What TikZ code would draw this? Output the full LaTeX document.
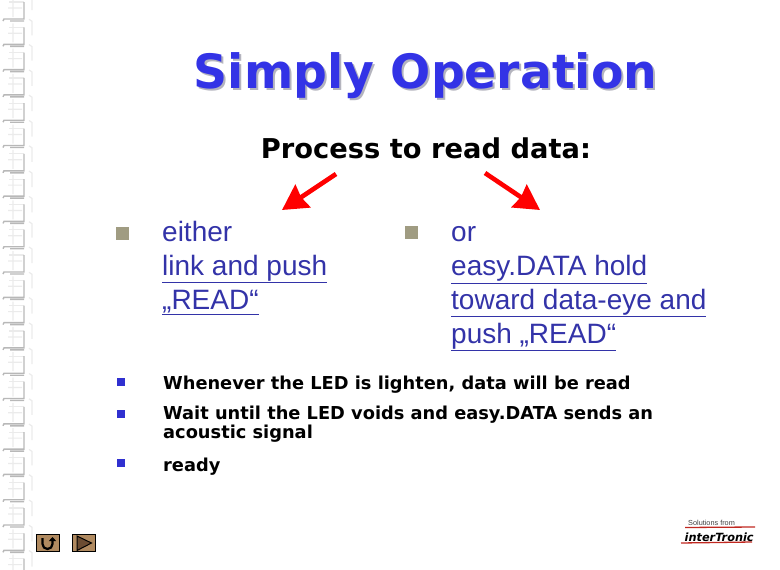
\documentclass[tikz,border=0pt]{standalone}
\usepackage{fontspec}
\usepackage{xcolor}
\usepackage{tikz}
\setmainfont{Liberation Sans}
\newfontfamily\verdana{DejaVu Sans}
\usetikzlibrary{positioning}
\usetikzlibrary{arrows.meta}
\definecolor{titleblue}{HTML}{3333E6}
\definecolor{linkblue}{HTML}{3333A8}
\definecolor{bulletgrey}{HTML}{A09C82}
\definecolor{bulletblue}{HTML}{3030D0}
\definecolor{shadowgrey}{HTML}{B4B4BE}
\definecolor{btnbrown}{HTML}{B08A60}
\definecolor{btndark}{HTML}{6B4C32}
\definecolor{logored}{HTML}{C02820}
\tikzset {
  x=1pt, y=-1pt,
  % big heading
  title/.style = {anchor=base, inner sep=0pt, font=\verdana\bfseries\fontsize{47.3}{47}\selectfont},
  % line below heading
  subtitle/.style = {anchor=base, inner sep=0pt, font=\verdana\bfseries\fontsize{27.3}{27}\selectfont},
  % the two link texts, placed at their last line
  linktext/.style = {anchor=base west, inner sep=0pt, align=left, text=linkblue, font=\fontsize{28}{33.7}\selectfont},
  % the small bold steps
  steptext/.style = {anchor=base west, inner sep=0pt, align=left, font=\verdana\bfseries\fontsize{17.8}{17}\selectfont},
  % square bullets
  bigsquare/.style = {fill=bulletgrey, minimum size=13pt, inner sep=0pt},
  smallsquare/.style = {fill=bulletblue, minimum size=8pt, inner sep=0pt},
  redarrow/.style = {draw=red, line width=4.6pt, -{Stealth[length=25pt, width=27pt, inset=2pt]}},
  % nav buttons
  navbutton/.style = {draw=black, line width=1pt, fill=btnbrown, minimum width=23pt, minimum height=17pt, inner sep=0pt},
  % wallpaper along the left edge
  edgeline/.style = {draw=black!28, line width=1.4pt},
  edgepale/.style = {draw=black!8, line width=1.2pt},
}
\begin{document}
\begin{tikzpicture}
  \useasboundingbox (0,0) rectangle (780,570);

  % left edge pattern
  \foreach \n in {0,...,22} {
    \begin{scope}[yshift=-\n*25.3pt]
      \draw[edgepale] (13,-2) -- (13,17) (8,8) -- (22,8) (29,-6) -- (32,-4) -- (32,10);
      \draw[edgepale] (9,2) -- (24,2);
      \draw[edgeline] (24,2) -- (24,19) -- (4,19) -- (3,21) (10,21) -- (24,21);
    \end{scope}
  }

  \node[title, text=shadowgrey] (shadow) at (427.5,90) {Simply Operation};
  \node[title, text=titleblue] (head) at (425.5,88) {Simply Operation};
  \node[subtitle] (sub) at (426,158) {Process to read data:};

  \coordinate (startl) at (336,174);
  \coordinate (endl) at (282,210);
  \coordinate (startr) at (485,173);
  \coordinate (endr) at (540,210);
  \draw[redarrow] (startl) -- (endl);
  \draw[redarrow] (startr) -- (endr);

  \node[bigsquare] (b1) at (122.5,233.5) {};
  \node[linktext] (either) at (162,309) {either\\\underline{link and push}\\\underline{„READ“}};
  \node[bigsquare] (b2) at (411.5,232.5) {};
  \node[linktext] (or) at (451,343) {or\\\underline{easy.DATA hold}\\\underline{toward data-eye and}\\\underline{push „READ“}};

  \node[smallsquare] (s1) at (121,382) {};
  \node[steptext] (step1) at (163,389) {Whenever the LED is lighten, data will be read};
  \node[smallsquare] (s2) at (121,414) {};
  \node[steptext] (step2) at (163,438) {Wait until the LED voids and easy.DATA sends an\\acoustic signal};
  \node[smallsquare] (s3) at (121,462.5) {};
  \node[steptext] (step3) at (163,471) {ready};

  % buttons
  \node[navbutton] (back) at (48,543) {};
  \draw[black, line width=2.2pt, -{Triangle[length=4pt, width=7pt]}] (42.5,538) -- (42.5,544) arc[start angle=180, end angle=0, radius=5pt, x radius=5pt, y radius=-5pt] -- (52.5,537);
  \node[navbutton] (next) at (84,543) {};
  \draw[black, line width=1pt, fill=btndark] (77,536) -- (91.5,543) -- (77,550.5) -- cycle;

  % logo
  \node[anchor=base west, inner sep=0pt, font=\fontsize{7.3}{8}\selectfont, text=black!75] (from) at (688,525.5) {Solutions from};
  \coordinate (barla) at (685,527.5);
  \coordinate (barlb) at (755,527);
  \coordinate (barra) at (681,543);
  \coordinate (barrb) at (752,542);
  \draw[logored, line width=1.3pt] (barla) -- (barlb);
  \draw[logored, line width=1.3pt] (barra) -- (barrb);
  \node[anchor=base west, inner sep=0pt, font=\verdana\bfseries\itshape\fontsize{11.3}{12}\selectfont] (logo) at (684.5,541) {interTronic};
\end{tikzpicture}
\end{document}
